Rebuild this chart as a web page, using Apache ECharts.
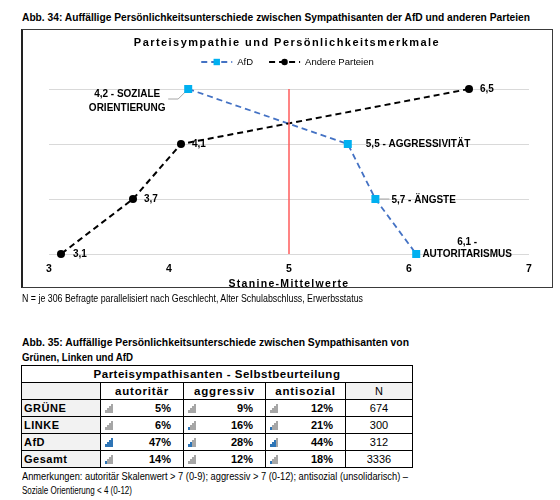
<!DOCTYPE html>
<html><head><meta charset="utf-8">
<script src="https://cdn.jsdelivr.net/npm/echarts@6/dist/echarts.min.js"></script>
<style>
body{margin:0;width:560px;height:500px;position:relative;background:#fff;color:#000;overflow:hidden;font-family:"Liberation Sans",Arial,sans-serif}
.t{position:absolute;white-space:nowrap;line-height:14px;transform-origin:0 50%}
.b{font-weight:bold}
#box{position:absolute;left:21px;top:29px;width:529px;height:257px;border:1px solid #3a3a3a;border-left:2px solid #222}
#chart{position:absolute;left:21px;top:29px;width:532px;height:259px}
#tbl{position:absolute;left:21px;top:365px;border-collapse:collapse;font-family:"Liberation Sans",Arial,sans-serif;font-size:11px}
#tbl td{border:1.5px solid #000;height:16px;padding:0;line-height:14px}
.g{background:#f2f2f2}
.ic{display:inline-block;width:8px;height:9px;margin-left:4px;vertical-align:-1px;position:relative}
.ic i{position:absolute;bottom:0;width:1.6px}
.v{float:right;margin-right:12px;font-weight:bold}
</style></head><body>
<div class="t b" id="t34" style="left:22px;top:10px;font-size:11.5px"></div>
<div id="box"></div>
<div id="chart"></div>
<div class="t b" id="ctitle" style="left:0;width:574px;text-align:center;top:35px;font-size:11px;letter-spacing:1.45px"></div>
<div class="t b" id="xname" style="left:0;width:578px;text-align:center;top:276px;font-size:10.5px;letter-spacing:1.3px"></div>
<div class="t" id="note34" style="left:22px;top:292px;font-size:10px"></div>
<div class="t b" id="t35a" style="left:22px;top:335px;font-size:11.5px"></div>
<div class="t b" id="t35b" style="left:22px;top:350px;font-size:11.5px"></div>
<table id="tbl"></table>
<div class="t" id="ann1" style="left:22px;top:470px;font-size:10px"></div>
<div class="t" id="ann2" style="left:22px;top:484px;font-size:10px"></div>
<script>
// ---- chart data ----
const traits = ["Soziale Orientierung", "Aggressivität", "Ängste", "Autoritarismus"];
const traitLabels = ["SOZIALE\nORIENTIERUNG", "AGGRESSIVITÄT", "ÄNGSTE", "\nAUTORITARISMUS"];
const afdValues = [4.16, 5.49, 5.72, 6.06];
const otherValues = [6.5, 4.1, 3.7, 3.1];
const xTicks = [3, 4, 5, 6, 7];
const seriesNames = ["AfD", "Andere Parteien"];
const refLine = 5;
// ---- table data ----
const tableTitle = "Parteisympathisanten - Selbstbeurteilung";
const tableCols = ["autoritär", "aggressiv", "antisozial", "N"];
const tableRows = ["GRÜNE", "LINKE", "AfD", "Gesamt"];
const autoritaer = [5, 6, 47, 14];
const aggressiv = [9, 16, 28, 12];
const antisozial = [12, 21, 44, 18];
const nValues = [674, 300, 312, 3336];
const iconAutoritaer = [0, 0, 4, 1];
const iconAggressiv = [0, 1, 2, 0];
const iconAntisozial = [0, 1, 3, 1];
// ---- texts ----
const texts = {
  t34: "Abb. 34: Auffällige Persönlichkeitsunterschiede zwischen Sympathisanten der AfD und anderen Parteien",
  ctitle: "Parteisympathie und Persönlichkeitsmerkmale",
  xname: "Stanine-Mittelwerte",
  note34: "N = je 306 Befragte parallelisiert nach Geschlecht, Alter Schulabschluss, Erwerbsstatus",
  t35a: "Abb. 35: Auffällige Persönlichkeitsunterschiede zwischen Sympathisanten von",
  t35b: "Grünen, Linken und AfD",
  ann1: "Anmerkungen: autoritär Skalenwert > 7 (0-9); aggressiv > 7 (0-12); antisozial (unsolidarisch) –",
  ann2: "Soziale Orientierung < 4 (0-12)"
};
for (const k in texts) document.getElementById(k).textContent = texts[k];
// narrow (Calibri-like) widths
const fitW = {t34:508, note34:341, t35a:387, t35b:111, ann1:386, ann2:110};
for (const k in fitW) {
  const el = document.getElementById(k);
  el.style.display = 'inline-block';
  const w = el.getBoundingClientRect().width;
  el.style.transform = 'scaleX(' + (fitW[k] / w) + ')';
}

const fmt = v => v.toFixed(1).replace('.', ',');
const afdLabelStyle = [
  {align:'center', offset:[-61, 12], lineHeight:14},
  {align:'left', offset:[18, 0], lineHeight:12},
  {align:'left', offset:[16, 1], lineHeight:12},
  {align:'center', offset:[51, -6], lineHeight:12}
];
// leader lines (pixel offsets from the point) for label 0 and 2
const leaderOffsets = {0: [[-2, 2], [-10, 10], [-20, 10]], 2: [[4, 0], [14, 0]]};
const otherOffsets = [[11,0],[11,0],[11,0],[12,0]];
const lblFont = {fontWeight:'bold', fontSize:10, color:'#000', fontFamily:'"Liberation Sans",Arial'};

const afdData = afdValues.map((v, i) => {
  const s = afdLabelStyle[i];
  const name = traitLabels[i];
  const txt = fmt(v) + ' -' + (name[0] === '\n' ? '' : ' ') + name;
  return {
    value: [v, traits[i]],
    label: Object.assign({show:true, position:'inside', align:s.align, verticalAlign:'middle',
      offset:s.offset, lineHeight:s.lineHeight, formatter: txt}, lblFont)
  };
});
const otherData = otherValues.map((v, i) => ({
  value: [v, traits[i]],
  label: Object.assign({show:true, position:'inside', align:'left', verticalAlign:'middle',
    offset:otherOffsets[i], formatter: fmt(v)}, lblFont)
}));

const chart = echarts.init(document.getElementById('chart'));
chart.setOption({
  animation:false,
  legend:{top:28, left:'center', padding:0, itemWidth:31, itemHeight:8, itemGap:15,
    textStyle:{fontSize:9.5, color:'#000', fontFamily:'"Liberation Sans",Arial'},
    data: seriesNames},
  grid:{left:28, right:24, top:60, bottom:34},
  xAxis:{type:'value', min:xTicks[0], max:xTicks[xTicks.length-1], interval:1,
    axisLine:{show:false}, axisTick:{show:false}, splitLine:{show:false},
    axisLabel:{fontWeight:'bold', fontSize:10.5, color:'#000', margin:10, fontFamily:'"Liberation Sans",Arial'}},
  yAxis:{type:'category', data:traits, inverse:true, boundaryGap:false,
    axisLine:{show:false}, axisTick:{show:false}, axisLabel:{show:false},
    splitLine:{show:true, lineStyle:{color:'#d9d9d9', width:1}}},
  series:[
    {name:seriesNames[0], type:'line', data:afdData, symbol:'rect', symbolSize:8,
      itemStyle:{color:'#00b0f0'}, lineStyle:{color:'#4472c4', width:1.8, type:[6,4]},
      z:3,
      markLine:{silent:true, symbol:'none', label:{show:false},
        lineStyle:{color:'#ff5b5b', width:1.5, type:'solid'}, data:[{xAxis:refLine}]}},
    {name:seriesNames[1], type:'line', data:otherData, symbol:'circle', symbolSize:8,
      itemStyle:{color:'#000'}, lineStyle:{color:'#000', width:2, type:[6,4]}, z:4}
  ]
});
// label leader lines anchored at data points (via the chart's own scales)
const guides = [];
for (const idx in leaderOffsets) {
  const p = chart.convertToPixel({seriesIndex:0}, [afdValues[idx], traits[idx]]);
  guides.push({type:'polyline', silent:true, z:1,
    shape:{points: leaderOffsets[idx].map(o => [p[0] + o[0], p[1] + o[1]])},
    style:{stroke:'#a6a6a6', lineWidth:1, fill:null}});
}
chart.setOption({graphic: guides});

// ---- table ----
function icon(n){
  let h='<span class="ic">';
  for(let k=0;k<4;k++){
    const col = k < n ? '#2e75b6' : '#a6a6a6';
    h += '<i style="left:'+(k*2)+'px;height:'+(3+k*2)+'px;background:'+col+'"></i>';
  }
  return h+'</span>';
}
const colW=[78,82,81,79,66];
let html='<tr><td colspan="5" class="b" style="text-align:center;letter-spacing:0.5px;font-size:11.5px">'+tableTitle+'</td></tr>';
html+='<tr><td class="g" style="width:'+colW[0]+'px"></td>';
tableCols.forEach((c,i)=>{
  const isN = i===3;
  html+='<td class="'+(isN?'g':'b')+'" style="width:'+colW[i+1]+'px;text-align:center;'+(isN?'':'letter-spacing:0.8px;font-size:11.5px')+'">'+c+'</td>';
});
html+='</tr>';
tableRows.forEach((r,i)=>{
  html+='<tr><td class="g b" style="padding-left:2px;letter-spacing:0.5px">'+r+'</td>';
  [[autoritaer,iconAutoritaer],[aggressiv,iconAggressiv],[antisozial,iconAntisozial]].forEach(([vals,ics])=>{
    html+='<td>'+icon(ics[i])+'<span class="v">'+vals[i]+'%</span></td>';
  });
  html+='<td style="text-align:center">'+nValues[i]+'</td></tr>';
});
document.getElementById('tbl').innerHTML=html;
</script>
</body></html>
